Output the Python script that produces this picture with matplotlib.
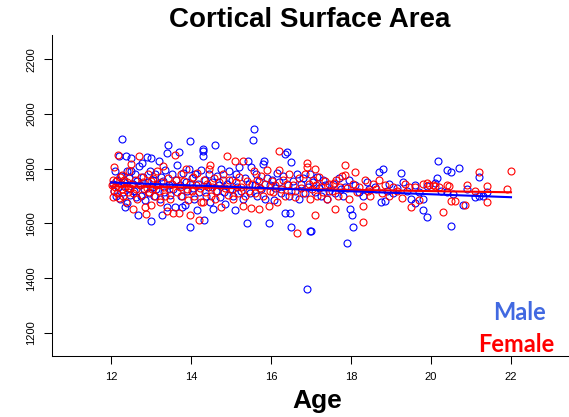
import matplotlib
matplotlib.use("Agg")
import matplotlib.pyplot as plt

plt.rcParams['font.family'] = ['Liberation Sans', 'DejaVu Sans']

# male points (age, cortical surface area)
male_age = [12.05, 12.08, 12.1, 12.12, 12.15, 12.18, 12.2, 12.22, 12.25, 12.28, 12.3, 12.32, 12.35, 12.38, 12.4, 12.4, 12.42, 12.45, 12.48, 12.5, 12.5,
            12.55, 12.58, 12.6, 12.62, 12.65, 12.68, 12.7, 12.72, 12.75, 12.77, 12.8, 12.82, 12.85, 12.9, 12.92, 12.95, 12.98, 13.0, 13.0, 13.02,
            13.05, 13.08, 13.1, 13.12, 13.15, 13.2, 13.22, 13.25, 13.27, 13.3, 13.32, 13.35, 13.4, 13.4, 13.42, 13.45, 13.48,
            13.52, 13.55, 13.6, 13.62, 13.66, 13.7, 13.72, 13.75, 13.78, 13.8, 13.85, 13.88, 13.9, 13.95, 13.98, 13.98,
            14.02, 14.05, 14.08, 14.1, 14.15, 14.18, 14.2, 14.25, 14.3, 14.3, 14.3, 14.32, 14.35, 14.38, 14.42, 14.45, 14.48,
            14.52, 14.56, 14.6, 14.62, 14.65, 14.7, 14.72, 14.75, 14.8, 14.82, 14.85, 14.9, 14.95, 14.98,
            15.02, 15.05, 15.1, 15.12, 15.15, 15.2, 15.25, 15.3, 15.35, 15.4, 15.43, 15.45, 15.5, 15.48,
            15.55, 15.58, 15.6, 15.62, 15.65, 15.7, 15.75, 15.8, 15.82, 15.85, 15.9, 15.95, 15.98,
            16.02, 16.07, 16.1, 16.15, 16.2, 16.25, 16.3, 16.35, 16.35, 16.4, 16.42, 16.45, 16.48, 16.5, 16.5,
            16.55, 16.6, 16.65, 16.7, 16.75, 16.8, 16.85, 16.9, 16.92, 16.97, 16.98,
            17.0, 17.05, 17.1, 17.15, 17.2, 17.25, 17.3, 17.35, 17.4, 17.45,
            17.55, 17.6, 17.7, 17.75, 17.8, 17.85, 17.9, 17.95, 17.98,
            18.02, 18.05, 18.1, 18.2, 18.3, 18.4, 18.45,
            18.6, 18.7, 18.75, 18.8, 18.85, 18.9, 18.95,
            19.05, 19.15, 19.25, 19.3, 19.4, 19.5,
            19.6, 19.6, 19.7, 19.8, 19.8, 19.9, 19.9,
            20.1, 20.16, 20.17, 20.25, 20.4, 20.4, 20.5, 20.5,
            20.56, 20.7, 20.8, 20.9,
            21.1, 21.2, 21.2, 21.3, 21.4]
male_area = [1745, 1720, 1790, 1700, 1760, 1735, 1845, 1690, 1775, 1909, 1715, 1750, 1659, 1845, 1790, 1675, 1730, 1765, 1705, 1839, 1790,
             1745, 1720, 1780, 1695, 1755, 1630, 1810, 1740, 1700, 1820, 1770, 1725, 1685, 1843, 1750, 1710, 1790, 1838, 1608, 1735,
             1760, 1700, 1780, 1725, 1745, 1830, 1690, 1770, 1632, 1755, 1715, 1795, 1857, 1660, 1886, 1740, 1705,
             1780, 1725, 1660, 1760, 1815, 1861, 1740, 1700, 1660, 1785, 1669, 1750, 1720, 1800, 1903, 1588,
             1765, 1730, 1690, 1780, 1648, 1745, 1715, 1795, 1872, 1863, 1848, 1612, 1760, 1700, 1735, 1780, 1680,
             1750, 1654, 1885, 1720, 1775, 1740, 1695, 1800, 1760, 1715, 1670, 1745, 1790, 1725,
             1760, 1700, 1651, 1780, 1735, 1805, 1720, 1690, 1765, 1600, 1827, 1745, 1808, 1710,
             1905, 1945, 1740, 1780, 1700, 1755, 1725, 1818, 1830, 1690, 1765, 1600, 1740,
             1760, 1685, 1730, 1785, 1750, 1710, 1775, 1854, 1639, 1862, 1740, 1700, 1639, 1825, 1588,
             1755, 1720, 1780, 1690, 1745, 1765, 1710, 1362, 1735, 1571, 1780,
             1574, 1750, 1715, 1770, 1730, 1700, 1760, 1740, 1690, 1720,
             1745, 1710, 1765, 1725, 1700, 1735, 1527, 1760, 1654,
             1632, 1589, 1740, 1715, 1700, 1750, 1725,
             1735, 1789, 1678, 1800, 1681, 1720, 1745,
             1710, 1730, 1784, 1753, 1720, 1690,
             1675, 1739, 1715, 1690, 1651, 1736, 1623,
             1748, 1768, 1827, 1720, 1794, 1714, 1788, 1590,
             1709, 1804, 1666, 1725,
             1696, 1771, 1702, 1702, 1715]

# female points
female_age = [12.02, 12.04, 12.05, 12.07, 12.08, 12.1, 12.12, 12.15, 12.18, 12.2, 12.22, 12.25, 12.27, 12.28, 12.3, 12.32, 12.35, 12.38, 12.4, 12.42, 12.45, 12.48, 12.5,
              12.52, 12.54, 12.56, 12.6, 12.62, 12.65, 12.7, 12.72, 12.75, 12.78, 12.8, 12.85, 12.87, 12.9, 12.92, 12.95, 13.0, 13.0,
              13.03, 13.06, 13.1, 13.13, 13.16, 13.2, 13.23, 13.26, 13.3, 13.33, 13.36, 13.4, 13.42, 13.45, 13.48,
              13.52, 13.55, 13.6, 13.62, 13.65, 13.7, 13.72, 13.75, 13.78, 13.82, 13.87, 13.9, 13.93, 13.98, 13.98,
              14.02, 14.05, 14.08, 14.12, 14.15, 14.2, 14.22, 14.25, 14.3, 14.32, 14.36, 14.4, 14.44, 14.47, 14.5,
              14.53, 14.57, 14.6, 14.65, 14.7, 14.75, 14.8, 14.85, 14.9, 14.92, 14.96,
              15.02, 15.06, 15.1, 15.13, 15.17, 15.2, 15.25, 15.3, 15.3, 15.35, 15.4, 15.45, 15.5,
              15.53, 15.57, 15.6, 15.65, 15.7, 15.72, 15.76, 15.8, 15.85, 15.9, 15.95, 15.97,
              16.02, 16.06, 16.1, 16.15, 16.2, 16.2, 16.25, 16.3, 16.35, 16.4, 16.45, 16.5,
              16.55, 16.6, 16.66, 16.7, 16.75, 16.8, 16.85, 16.9, 16.9, 16.95, 16.98,
              17.02, 17.06, 17.1, 17.1, 17.13, 17.16, 17.2, 17.25, 17.3, 17.35, 17.4, 17.45,
              17.52, 17.58, 17.6, 17.62, 17.68, 17.72, 17.78, 17.85, 17.85, 17.9, 17.95,
              18.05, 18.1, 18.15, 18.2, 18.3, 18.3, 18.35, 18.42, 18.48,
              18.55, 18.62, 18.7, 18.78, 18.85, 18.96,
              19.05, 19.15, 19.27, 19.35, 19.45, 19.5,
              19.6, 19.7, 19.8, 19.9, 19.96,
              20.06, 20.1, 20.2, 20.3, 20.4, 20.45, 20.5,
              20.6, 20.85, 20.9,
              21.1, 21.2, 21.4, 21.4, 21.9, 22.0]
female_area = [1740, 1697, 1760, 1808, 1720, 1735, 1755, 1710, 1851, 1693, 1770, 1745, 1778, 1725, 1700, 1760, 1735, 1680, 1750, 1715, 1790, 1730, 1818,
               1745, 1654, 1710, 1760, 1725, 1690, 1845, 1740, 1770, 1705, 1750, 1660, 1635, 1730, 1780, 1715, 1669, 1755,
               1725, 1765, 1700, 1740, 1790, 1720, 1680, 1750, 1810, 1735, 1700, 1644, 1765, 1725, 1690,
               1745, 1639, 1851, 1760, 1715, 1639, 1735, 1780, 1700, 1755, 1799, 1725, 1685, 1630, 1745,
               1720, 1770, 1700, 1740, 1785, 1614, 1730, 1680, 1679, 1760, 1715, 1745, 1800, 1815, 1700,
               1735, 1765, 1690, 1720, 1750, 1660, 1780, 1730, 1845, 1705, 1760,
               1725, 1690, 1827, 1750, 1710, 1770, 1735, 1663, 1827, 1700, 1755, 1720, 1657,
               1745, 1790, 1710, 1760, 1653, 1730, 1775, 1700, 1745, 1794, 1663, 1720,
               1755, 1715, 1740, 1680, 1863, 1796, 1725, 1760, 1700, 1745, 1780, 1720,
               1740, 1695, 1566, 1765, 1730, 1710, 1780, 1808, 1821, 1745, 1690,
               1725, 1760, 1799, 1632, 1740, 1700, 1770, 1735, 1715, 1755, 1690, 1745,
               1720, 1749, 1653, 1760, 1700, 1735, 1775, 1815, 1776, 1730, 1690,
               1745, 1788, 1715, 1735, 1605, 1663, 1760, 1720, 1700,
               1745, 1725, 1760, 1710, 1740, 1702,
               1735, 1720, 1693, 1745, 1732, 1659,
               1732, 1685, 1745, 1748, 1742,
               1742, 1736, 1732, 1642, 1739, 1736, 1683,
               1683, 1669, 1739,
               1717, 1788, 1737, 1680, 1727, 1790]

# linear fits (end points)
fit_age = [12, 22]
male_fit = [1750, 1696]
female_fit = [1736, 1714]

fig = plt.figure(figsize=(5.69, 4.17), dpi=100)
ax = fig.add_axes([52/569, 1-356/417, (583-52)/569, (356-34.6)/417])

ax.plot(male_age, male_area, 'o', mfc='none', mec='#0000ff', ms=5, mew=0.8)
ax.plot(female_age, female_area, 'o', mfc='none', mec='#ff0000', ms=5, mew=0.8)
ax.plot(fit_age, female_fit, color='#ff0000', lw=1.5)
ax.plot(fit_age, male_fit, color='#0000ff', lw=1.5)

ax.set_xlim(10.525, 23.8)
ax.set_ylim(1116, 2290)
ax.set_xticks([12, 14, 16, 18, 20, 22])
ax.set_yticks([1200, 1400, 1600, 1800, 2000, 2200])
ax.tick_params(labelsize=8, length=5.5, width=0.75, pad=6)
for lab in ax.get_yticklabels():
    lab.set_rotation(90)
    lab.set_va('center')
ax.spines['top'].set_visible(False)
ax.spines['right'].set_visible(False)
ax.spines['left'].set_linewidth(0.75)
ax.spines['bottom'].set_linewidth(0.75)

fig.text(310/569, 1-20/417, 'Cortical Surface Area', ha='center', va='center',
         fontsize=20, fontweight='bold')
fig.text(317.5/569, 1-401/417, 'Age', ha='center', va='center',
         fontsize=19, fontweight='bold')

ax.text(0.880, 0.134, 'Male', transform=ax.transAxes, ha='center', va='center',
        color='#4169e1', fontsize=17, fontweight='bold', family='Lato')
ax.text(0.874, 0.037, 'Female', transform=ax.transAxes, ha='center', va='center',
        color='#ff0000', fontsize=17, fontweight='bold', family='Lato')

fig.savefig('out.png', dpi=100)
